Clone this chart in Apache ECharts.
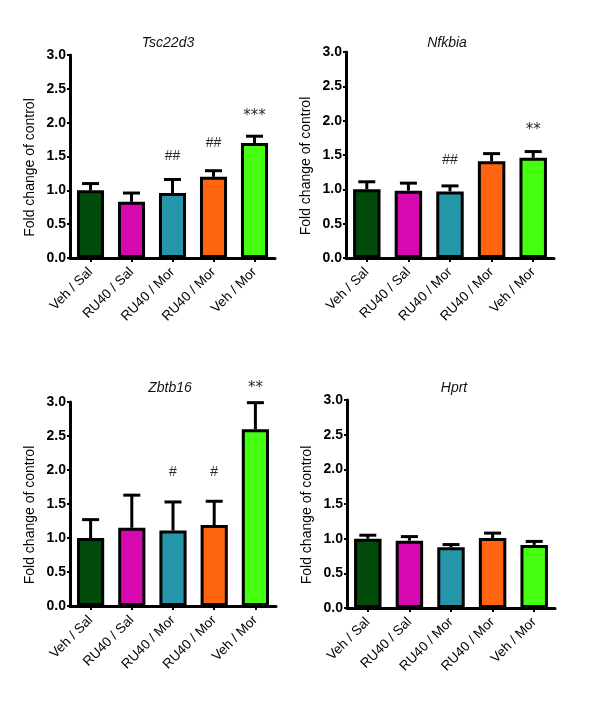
<!DOCTYPE html>
<html><head><meta charset="utf-8">
<script src="https://cdn.jsdelivr.net/npm/echarts@6/dist/echarts.min.js"></script>
<style>html,body{margin:0;padding:0;background:#fff}#c{width:600px;height:718px}</style>
</head><body><div id="c"></div>
<script>
const categories = ['Veh / Sal', 'RU40 / Sal', 'RU40 / Mor', 'RU40 / Mor', 'Veh / Mor'];
const barColors = ['#004a0a', '#d808b0', '#2596aa', '#ff6410', '#44ff10'];
const yTicks = [0, 0.5, 1.0, 1.5, 2.0, 2.5, 3.0];
const geneNames = ['Tsc22d3', 'Nfkbia', 'Zbtb16', 'Hprt'];

const tscMean = [1.00, 0.83, 0.96, 1.20, 1.70];
const tscErr  = [0.10, 0.13, 0.20, 0.09, 0.10];
const tscSig  = ['', '', '##', '##', '***'];
const tscSigY = [null, null, 1.50, 1.70, 2.10];

const nfkMean = [1.00, 0.98, 0.97, 1.41, 1.46];
const nfkErr  = [0.11, 0.11, 0.08, 0.11, 0.09];
const nfkSig  = ['', '', '##', '', '**'];
const nfkSigY = [null, null, 1.42, null, 1.86];

const zbtMean = [1.00, 1.15, 1.11, 1.19, 2.60];
const zbtErr  = [0.27, 0.48, 0.42, 0.35, 0.39];
const zbtSig  = ['', '', '#', '#', '**'];
const zbtSigY = [null, null, 1.97, 1.97, 3.20];

const hprMean = [1.00, 0.97, 0.875, 1.01, 0.91];
const hprErr  = [0.05, 0.06, 0.04, 0.07, 0.05];
const hprSig  = ['', '', '', '', ''];
const hprSigY = [null, null, null, null, null];

const panels = [
  {mean: tscMean, err: tscErr, sig: tscSig, sigY: tscSigY},
  {mean: nfkMean, err: nfkErr, sig: nfkSig, sigY: nfkSigY},
  {mean: zbtMean, err: zbtErr, sig: zbtSig, sigY: zbtSigY},
  {mean: hprMean, err: hprErr, sig: hprSig, sigY: hprSigY}
];
const grids = [
  {left: 70, top: 55, width: 205, height: 203},
  {left: 346, top: 52, width: 208, height: 206},
  {left: 70, top: 402, width: 206, height: 204},
  {left: 347, top: 400, width: 208, height: 208}
];
const FONT = '"Liberation Sans", Arial, Helvetica, sans-serif';

const chart = echarts.init(document.getElementById('c'), null, {renderer: 'canvas'});
const xAxes = [], yAxes = [], series = [], graphics = [];
panels.forEach((p, i) => {
  xAxes.push({
    type: 'category', gridIndex: i, data: categories,
    axisLine: {lineStyle: {color: '#000', width: 3}},
    axisTick: {show: true, alignWithLabel: true, length: 4, lineStyle: {color: '#000', width: 2}},
    axisLabel: {rotate: 45, fontSize: 13.5, color: '#000', fontFamily: FONT, margin: 12, interval: 0}
  });
  yAxes.push({
    type: 'value', gridIndex: i, min: 0, max: 3, interval: 0.5,
    name: 'Fold change of control', nameLocation: 'middle', nameGap: 33,
    nameTextStyle: {fontSize: 14, color: '#000', fontFamily: FONT, padding: [0, 22, 0, 0]},
    axisLine: {show: true, lineStyle: {color: '#000', width: 3}},
    axisTick: {show: true, length: 3, lineStyle: {color: '#000', width: 2}},
    splitLine: {show: false},
    axisLabel: {fontSize: 14, fontWeight: 'bold', color: '#000', fontFamily: FONT, margin: 4,
      formatter: v => yTicks.indexOf(v) >= 0 ? v.toFixed(1) : ''}
  });
  series.push({
    type: 'bar', xAxisIndex: i, yAxisIndex: i, barWidth: '66%',
    data: p.mean.map((v, k) => ({value: v, itemStyle: {color: barColors[k]}})),
    itemStyle: {borderColor: '#000', borderWidth: 3},
    z: 2
  });
  series.push({
    type: 'custom', xAxisIndex: i, yAxisIndex: i, z: 3,
    data: p.mean.map((v, k) => [k, v, v + p.err[k]]),
    renderItem: (params, api) => {
      const b = api.coord([api.value(0), api.value(1)]);
      const t = api.coord([api.value(0), api.value(2)]);
      const hw = 8.5;
      const st = {stroke: '#000', lineWidth: 3};
      return {type: 'group', children: [
        {type: 'line', shape: {x1: b[0], y1: b[1], x2: t[0], y2: t[1]}, style: st},
        {type: 'line', shape: {x1: t[0] - hw, y1: t[1], x2: t[0] + hw, y2: t[1]}, style: st}
      ]};
    }
  });
  series.push({
    type: 'custom', xAxisIndex: i, yAxisIndex: i, z: 4, clip: false,
    data: p.sig.map((s, k) => [k, p.sigY[k] == null ? 0 : p.sigY[k], s]),
    renderItem: (params, api) => {
      const s = p.sig[params.dataIndex];
      if (!s) return null;
      const c = api.coord([api.value(0), api.value(1)]);
      const isStar = s.indexOf('*') >= 0;
      return {type: 'text', x: c[0], y: c[1], style: {
        text: s, fill: '#2a2a2a',
        font: isStar ? '15px "DejaVu Sans", sans-serif' : '14px ' + FONT,
        textAlign: 'center', textVerticalAlign: 'middle',
        shadowColor: 'rgba(0,60,120,0.35)', shadowBlur: 2
      }};
    }
  });
});
const titlePos = [[168, 43], [447, 43], [170, 388], [454, 388]];
geneNames.forEach((g, i) => {
  graphics.push({type: 'text', x: titlePos[i][0], y: titlePos[i][1], style: {
    text: g, font: 'italic 14px ' + FONT, fill: '#111', textAlign: 'center', textVerticalAlign: 'middle'}});
});
chart.setOption({
  animation: false,
  grid: grids.map(g => Object.assign({containLabel: false}, g)),
  xAxis: xAxes, yAxis: yAxes, series: series, graphic: graphics
});
</script></body></html>
